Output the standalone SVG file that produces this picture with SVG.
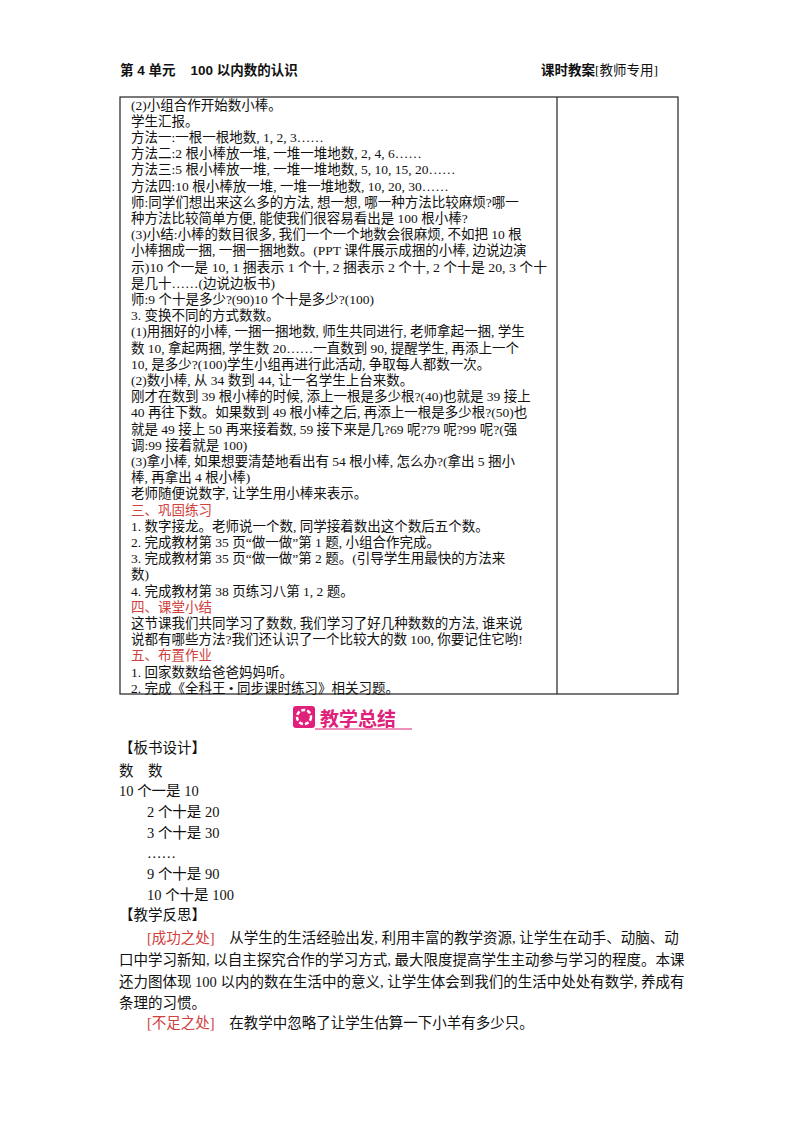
<svg xmlns="http://www.w3.org/2000/svg" width="800" height="1132" viewBox="0 0 800 1132">
<style>
text{font-family:"Liberation Serif","Noto Sans CJK SC",serif;font-size:13.5px;fill:#111;dominant-baseline:central;white-space:pre}
.h{font-family:"Liberation Sans","Noto Sans CJK SC",sans-serif;font-size:13.5px;font-weight:bold}
.r{fill:#d0403c}
.b{font-size:14.5px}
</style>
<rect width="800" height="1132" fill="#fff"/>
<text class="h" x="120" y="70">第 4 单元    100 以内数的认识</text>
<text class="h" x="541" y="70">课时教案<tspan font-weight="normal" font-family="Liberation Serif,Noto Sans CJK SC,serif">[教师专用]</tspan></text>
<g id="table" fill="none" stroke="#222" stroke-width="1.2">
<rect x="120" y="97" width="558" height="597"/>
<line x1="557" y1="97" x2="557" y2="694"/>
</g>
<g id="content">
<text x="131" y="105">(2)小组合作开始数小棒。</text>
<text x="131" y="121.2">学生汇报。</text>
<text x="131" y="137.4">方法一:一根一根地数, 1, 2, 3……</text>
<text x="131" y="153.6">方法二:2 根小棒放一堆, 一堆一堆地数, 2, 4, 6……</text>
<text x="131" y="169.8">方法三:5 根小棒放一堆, 一堆一堆地数, 5, 10, 15, 20……</text>
<text x="131" y="186">方法四:10 根小棒放一堆, 一堆一堆地数, 10, 20, 30……</text>
<text x="131" y="202.2">师:同学们想出来这么多的方法, 想一想, 哪一种方法比较麻烦?哪一</text>
<text x="131" y="218.4">种方法比较简单方便, 能使我们很容易看出是 100 根小棒?</text>
<text x="131" y="234.6">(3)小结:小棒的数目很多, 我们一个一个地数会很麻烦, 不如把 10 根</text>
<text x="131" y="250.8">小棒捆成一捆, 一捆一捆地数。(PPT 课件展示成捆的小棒, 边说边演</text>
<text x="131" y="267" textLength="416" lengthAdjust="spacingAndGlyphs">示)10 个一是 10, 1 捆表示 1 个十, 2 捆表示 2 个十, 2 个十是 20, 3 个十</text>
<text x="131" y="283.2">是几十……(边说边板书)</text>
<text x="131" y="299.4">师:9 个十是多少?(90)10 个十是多少?(100)</text>
<text x="131" y="315.6">3. 变换不同的方式数数。</text>
<text x="131" y="331.8">(1)用捆好的小棒, 一捆一捆地数, 师生共同进行, 老师拿起一捆, 学生</text>
<text x="131" y="348">数 10, 拿起两捆, 学生数 20……一直数到 90, 提醒学生, 再添上一个</text>
<text x="131" y="364.2">10, 是多少?(100)学生小组再进行此活动, 争取每人都数一次。</text>
<text x="131" y="380.4">(2)数小棒, 从 34 数到 44, 让一名学生上台来数。</text>
<text x="131" y="396.6">刚才在数到 39 根小棒的时候, 添上一根是多少根?(40)也就是 39 接上</text>
<text x="131" y="412.8">40 再往下数。如果数到 49 根小棒之后, 再添上一根是多少根?(50)也</text>
<text x="131" y="429">就是 49 接上 50 再来接着数, 59 接下来是几?69 呢?79 呢?99 呢?(强</text>
<text x="131" y="445.2">调:99 接着就是 100)</text>
<text x="131" y="461.4">(3)拿小棒, 如果想要清楚地看出有 54 根小棒, 怎么办?(拿出 5 捆小</text>
<text x="131" y="477.6">棒, 再拿出 4 根小棒)</text>
<text x="131" y="493.8">老师随便说数字, 让学生用小棒来表示。</text>
<text x="131" y="510" class="r">三、巩固练习</text>
<text x="131" y="526.2">1. 数字接龙。老师说一个数, 同学接着数出这个数后五个数。</text>
<text x="131" y="542.4">2. 完成教材第 35 页“做一做”第 1 题, 小组合作完成。</text>
<text x="131" y="558.6">3. 完成教材第 35 页“做一做”第 2 题。(引导学生用最快的方法来</text>
<text x="131" y="574.8">数)</text>
<text x="131" y="591">4. 完成教材第 38 页练习八第 1, 2 题。</text>
<text x="131" y="607.2" class="r">四、课堂小结</text>
<text x="131" y="623.4">这节课我们共同学习了数数, 我们学习了好几种数数的方法, 谁来说</text>
<text x="131" y="639.6">说都有哪些方法?我们还认识了一个比较大的数 100, 你要记住它哟!</text>
<text x="131" y="655.8" class="r">五、布置作业</text>
<text x="131" y="672">1. 回家数数给爸爸妈妈听。</text>
<text x="131" y="688.2">2. 完成《全科王 • 同步课时练习》相关习题。</text>
</g>
<g id="banner">
<rect x="293" y="706" width="22" height="22" rx="3" fill="#e0207a"/>
<circle cx="304" cy="717" r="7" fill="none" stroke="#fff" stroke-width="2.5" stroke-dasharray="4 2"/>
<text x="320" y="717" style="font-family:'Noto Sans CJK SC',sans-serif;font-size:19px;font-weight:bold;fill:#e0207a">教学总结</text>
<line x1="315" y1="729" x2="412" y2="729" stroke="#e0207a" stroke-width="1.2"/>
</g>
<g id="summary">
<text class="b" x="119" y="748">【板书设计】</text>
<text class="b" x="119" y="771">数    数</text>
<text class="b" x="119" y="791">10 个一是 10</text>
<text class="b" x="147" y="812">2 个十是 20</text>
<text class="b" x="147" y="833">3 个十是 30</text>
<text class="b" x="147" y="853">……</text>
<text class="b" x="147" y="874">9 个十是 90</text>
<text class="b" x="147" y="895">10 个十是 100</text>
<text class="b" x="119" y="915">【教学反思】</text>
<text class="b" x="147" y="938"><tspan class="r">[成功之处]</tspan>    从学生的生活经验出发, 利用丰富的教学资源, 让学生在动手、动脑、动</text>
<text class="b" x="119" y="960">口中学习新知, 以自主探究合作的学习方式, 最大限度提高学生主动参与学习的程度。本课</text>
<text class="b" x="119" y="982">还力图体现 100 以内的数在生活中的意义, 让学生体会到我们的生活中处处有数学, 养成有</text>
<text class="b" x="119" y="1003">条理的习惯。</text>
<text class="b" x="147" y="1023"><tspan class="r">[不足之处]</tspan>    在教学中忽略了让学生估算一下小羊有多少只。</text>
</g>
</svg>
